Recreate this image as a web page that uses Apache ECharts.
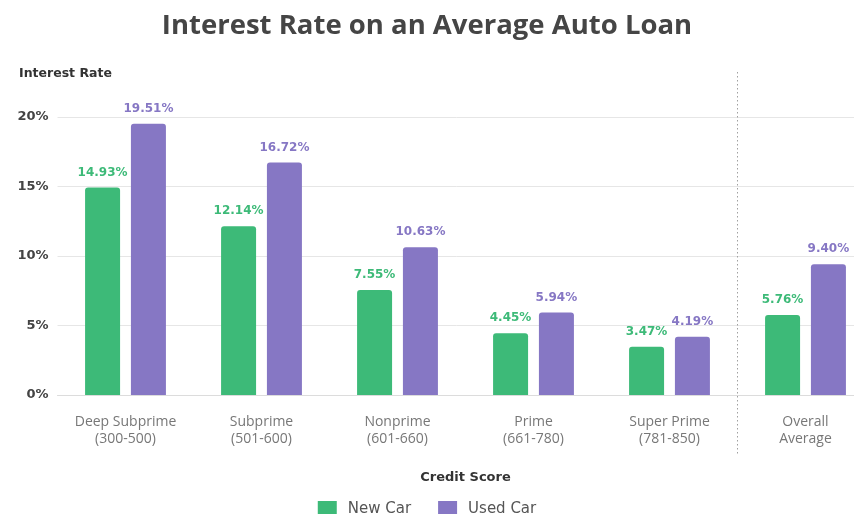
<!DOCTYPE html>
<html><head><meta charset="utf-8">
<script src="https://cdn.jsdelivr.net/npm/echarts@6/dist/echarts.min.js"></script>
<style>html,body{margin:0;padding:0;background:#fff}#c{width:854px;height:514px}</style>
</head><body><div id="c"></div>
<script>
const categories = ['Deep Subprime\n(300-500)', 'Subprime\n(501-600)', 'Nonprime\n(601-660)', 'Prime\n(661-780)', 'Super Prime\n(781-850)', 'Overall\nAverage'];
const newCar = [14.93, 12.14, 7.55, 4.45, 3.47, 5.76];
const usedCar = [19.51, 16.72, 10.63, 5.94, 4.19, 9.40];
const yTicks = [0, 5, 10, 15, 20];

const GREEN = '#3dba78', PURPLE = '#8677c4';
const chart = echarts.init(document.getElementById('c'));
const lbl = (c) => ({show: true, position: 'top', distance: 9, color: c, fontWeight: 'bold', fontSize: 12, fontFamily: 'DejaVu Sans', formatter: p => p.value.toFixed(2) + '%'});
chart.setOption({
  animation: false,
  title: [
    {text: 'Interest Rate on an Average Auto Loan', left: 'center', top: 7, textStyle: {fontFamily: 'Open Sans', fontWeight: 'bold', fontSize: 27.5, color: '#454545'}},
    {text: 'Interest Rate', left: 14, top: 62, textStyle: {fontFamily: 'DejaVu Sans', fontWeight: 'bold', fontSize: 12.5, color: '#333'}}
  ],
  legend: {top: 496, left: 'center', itemWidth: 19, itemHeight: 16, itemGap: 27, icon: 'rect',
    textStyle: {fontFamily: 'DejaVu Sans', fontSize: 15, color: '#555', padding: [0,0,0,6]}},
  grid: {left: 57.5, top: 117, width: 816, bottom: 119, containLabel: false, outerBoundsMode: 'none'},
  xAxis: {type: 'category', data: categories,
    name: 'Credit Score', nameLocation: 'middle', nameGap: 76,
    nameTextStyle: {fontFamily: 'DejaVu Sans', fontWeight: 'bold', fontSize: 13, color: '#333'},
    axisLine: {lineStyle: {color: '#dcdcdc'}}, axisTick: {show: false},
    axisLabel: {interval: 0, hideOverlap: false, color: '#777', fontFamily: 'Open Sans', fontSize: 14, lineHeight: 17, margin: 19}},
  yAxis: {type: 'value', min: 0, max: 20, interval: 5,
    axisLabel: {formatter: v => yTicks.includes(v) ? v + '%' : '', color: '#444', fontFamily: 'DejaVu Sans', fontWeight: 'bold', fontSize: 13, margin: 9},
    splitLine: {lineStyle: {color: '#e6e6e6'}}, axisLine: {show: false}, axisTick: {show: false}},
  series: [
    {name: 'New Car', type: 'bar', data: newCar, barWidth: 35, barGap: '31%', itemStyle: {color: GREEN, borderRadius: [3,3,0,0]}, label: lbl(GREEN)},
    {name: 'Used Car', type: 'bar', data: usedCar, barWidth: 35, itemStyle: {color: PURPLE, borderRadius: [3,3,0,0]}, label: lbl(PURPLE)}
  ]
});
const x4 = chart.convertToPixel({xAxisIndex: 0}, 4);
const x5 = chart.convertToPixel({xAxisIndex: 0}, 5);
const xd = (x4 + x5) / 2;
chart.setOption({graphic: [{type: 'line', shape: {x1: xd, y1: 72, x2: xd, y2: 455}, style: {stroke: '#a0a0a0', lineWidth: 1, lineDash: [1.5, 2.5]}}]});
</script></body></html>
